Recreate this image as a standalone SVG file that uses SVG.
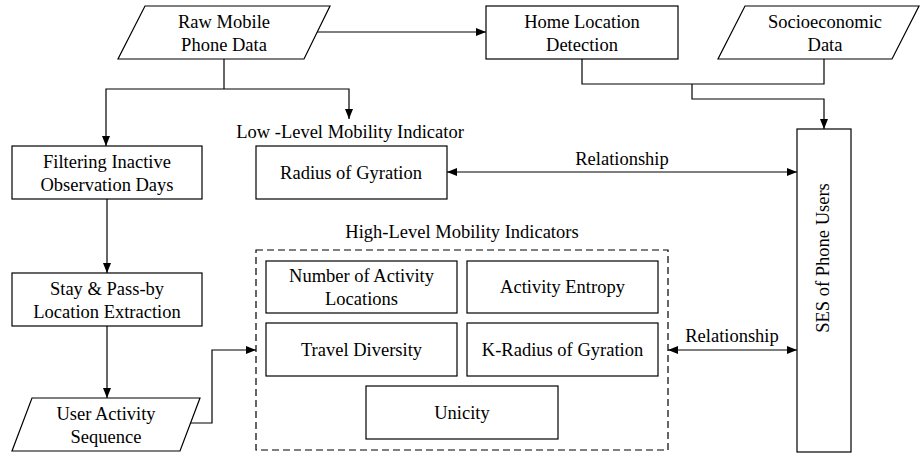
<svg xmlns="http://www.w3.org/2000/svg" width="920" height="453" viewBox="0 0 920 453">
<style>
.box{fill:#fff;stroke:#000;stroke-width:1.2}
.t{font-family:'Liberation Serif','Times New Roman',Tinos,'DejaVu Serif',serif;font-size:18.5px;fill:#000;text-anchor:middle}
.c{fill:none;stroke:#000;stroke-width:1.2}
.dash{fill:none;stroke:#000;stroke-width:1.2;stroke-dasharray:7,4}
</style>
<defs>
<marker id="ah" viewBox="0 0 10 8" refX="10" refY="4" markerWidth="10" markerHeight="8" markerUnits="userSpaceOnUse" orient="auto-start-reverse">
<path d="M0,0 L10,4 L0,8 z" fill="#000"/>
</marker>
</defs>
<g id="connectors">
<line class="c" x1="317" y1="32" x2="486" y2="32" marker-end="url(#ah)"/>
<polyline class="c" points="224,59 224,89"/>
<polyline class="c" points="106,146 106,89 349,89 349,119" marker-start="url(#ah)" marker-end="url(#ah)"/>
<polyline class="c" points="582,59 582,84 824,84 824,59"/>
<polyline class="c" points="692,84 692,99 824,99 824,129" marker-end="url(#ah)"/>
<line class="c" x1="107" y1="199" x2="107" y2="273" marker-end="url(#ah)"/>
<line class="c" x1="107" y1="326" x2="107" y2="398" marker-end="url(#ah)"/>
<polyline class="c" points="190,423 212,423 212,350 256,350" marker-end="url(#ah)"/>
<line class="c" x1="447" y1="172" x2="797" y2="172" marker-start="url(#ah)" marker-end="url(#ah)"/>
<text class="t" x="622" y="165" font-family="Liberation Serif, serif">Relationship</text>
<line class="c" x1="668" y1="350" x2="797" y2="350" marker-start="url(#ah)" marker-end="url(#ah)"/>
<text class="t" x="732" y="342" font-family="Liberation Serif, serif">Relationship</text>
</g>
<g id="raw-data">
<polygon class="box" points="145,6 330,6 304,59 118,59"/>
<text class="t" x="224" y="28">Raw Mobile</text>
<text class="t" x="224" y="51">Phone Data</text>
</g>
<g id="home-location">
<rect class="box" x="486" y="6" width="192" height="53"/>
<text class="t" x="582" y="28">Home Location</text>
<text class="t" x="582" y="51">Detection</text>
</g>
<g id="socioeconomic">
<polygon class="box" points="745,6 919,6 892,59 718,59"/>
<text class="t" x="825" y="28">Socioeconomic</text>
<text class="t" x="825" y="51">Data</text>
</g>
<g id="filtering">
<rect class="box" x="12" y="146" width="190" height="53"/>
<text class="t" x="107" y="168">Filtering Inactive</text>
<text class="t" x="107" y="191">Observation Days</text>
</g>
<g id="low-level">
<text class="t" x="350" y="138">Low -Level Mobility Indicator</text>
</g>
<g id="radius">
<rect class="box" x="256" y="146" width="191" height="53"/>
<text class="t" x="351" y="179">Radius of Gyration</text>
</g>
<g id="stay">
<rect class="box" x="12" y="273" width="190" height="53"/>
<text class="t" x="107" y="295">Stay &amp; Pass-by</text>
<text class="t" x="107" y="318">Location Extraction</text>
</g>
<g id="user-activity">
<polygon class="box" points="32,398 200,398 180,451 12,451"/>
<text class="t" x="106" y="420">User Activity</text>
<text class="t" x="106" y="443">Sequence</text>
</g>
<g id="high-level">
<text class="t" x="462" y="238">High-Level Mobility Indicators</text>
<rect class="dash" x="256" y="250" width="412" height="200"/>
</g>
<g id="num-locations">
<rect class="box" x="266" y="261" width="191" height="52"/>
<text class="t" x="361.5" y="282">Number of Activity</text>
<text class="t" x="361.5" y="305">Locations</text>
</g>
<g id="entropy">
<rect class="box" x="467" y="261" width="191" height="52"/>
<text class="t" x="562.5" y="293">Activity Entropy</text>
</g>
<g id="travel-diversity">
<rect class="box" x="266" y="323" width="191" height="53"/>
<text class="t" x="361.5" y="356">Travel Diversity</text>
</g>
<g id="k-radius">
<rect class="box" x="467" y="323" width="191" height="53"/>
<text class="t" x="562.5" y="356">K-Radius of Gyration</text>
</g>
<g id="unicity">
<rect class="box" x="366" y="386" width="192" height="53"/>
<text class="t" x="462" y="419">Unicity</text>
</g>
<g id="ses">
<rect class="box" x="797" y="129" width="54" height="323"/>
<text class="t" transform="translate(829,258) rotate(-90)">SES of Phone Users</text>
</g>
</svg>
